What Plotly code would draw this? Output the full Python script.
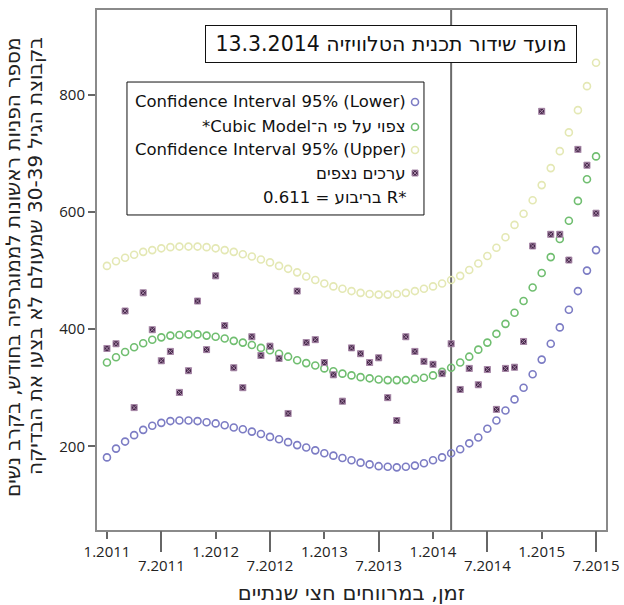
import plotly.graph_objects as go

# ---------------- data ----------------
start_year, start_month, n_months = 2011, 1, 55
month_labels = []
yy, mm = start_year, start_month
for _ in range(n_months):
    month_labels.append(f"{mm}.{yy}")
    mm += 1
    if mm > 12:
        mm, yy = 1, yy + 1
x_idx = list(range(len(month_labels)))

lower = [181, 196, 208, 219, 228, 235, 240, 243, 244, 244,
         243, 241, 239, 236, 232, 229, 225, 221, 216, 212,
         207, 202, 198, 193, 188, 184, 180, 176, 172, 169,
         166, 165, 164, 165, 167, 171, 176, 181, 188, 195,
         205, 215, 230, 244, 261, 280, 300, 323, 348, 375,
         403, 433, 465, 500, 535]
model = [343, 352, 361, 369, 376, 382, 386, 389, 390, 391,
         391, 389, 387, 384, 380, 377, 373, 368, 364, 358,
         353, 347, 342, 338, 333, 328, 324, 321, 318, 316,
         314, 313, 313, 313, 315, 317, 321, 327, 334, 343,
         353, 365, 377, 392, 409, 428, 448, 471, 496, 523,
         554, 585, 619, 656, 695]
upper = [508, 516, 522, 527, 532, 535, 538, 540, 541, 541,
         541, 540, 538, 535, 532, 528, 524, 519, 514, 508,
         503, 497, 490, 484, 478, 473, 469, 465, 462, 460,
         459, 459, 460, 462, 465, 469, 473, 478, 484, 491,
         501, 512, 525, 539, 557, 578, 597, 620, 646, 675,
         704, 736, 774, 815, 855]
observed = [367, 375, 431, 266, 462, 399, 346, 362, 292, 329,
            448, 365, 491, 406, 334, 300, 387, 355, 371, 350,
            256, 465, 377, 382, 343, 322, 277, 368, 358, 343,
            351, 283, 244, 387, 362, 345, 340, 324, 375, 297,
            333, 305, 331, 263, 333, 335, 379, 542, 772, 562,
            562, 518, 707, 680, 598]

jan_ticks = [i for i, l in enumerate(month_labels) if l.startswith("1.")]
jul_ticks = [i for i, l in enumerate(month_labels) if l.startswith("7.")]
broadcast_label = "3.2014"
broadcast_idx = month_labels.index(broadcast_label)
y_ticks = [200, 400, 600, 800]

RLE, PDF = "\u202b", "\u202c"
title_text = RLE + "מועד שידור תכנית הטלוויזיה 13.3.2014" + PDF
legend_texts = ["Confidence Interval 95% (Lower)",
                RLE + "צפוי על פי ה־Cubic Model*" + PDF,
                "Confidence Interval 95% (Upper)",
                RLE + "ערכים נצפים" + PDF,
                RLE + "*R בריבוע = 0.611" + PDF]
x_title = RLE + "זמן, במרווחים חצי שנתיים" + PDF
y_title_lines = [RLE + "מספר הפניות ראשונות לממוגרפיה בחודש, בקרב נשים" + PDF,
                 RLE + "בקבוצת הגיל 30-39 שמעולם לא בצעו את הבדיקה" + PDF]

# ---------------- styles ----------------
TICK_FONT = dict(family="Open Sans, DejaVu Sans, sans-serif", size=15, color="#222")
TXT_FONT = "DejaVu Sans, sans-serif"
st_lower = dict(symbol="circle-open", size=7, color="#7c7cc4", line=dict(width=1.6))
st_model = dict(symbol="circle-open", size=7, color="#70be70", line=dict(width=1.6))
st_upper = dict(symbol="circle-open", size=7, color="#e4e8b4", line=dict(width=1.6))
st_obs = dict(symbol="square-x", size=6, color="#46284a", line=dict(width=1, color="#a888a8"))

fig = go.Figure()
for vals, st in [(upper, st_upper), (lower, st_lower), (model, st_model), (observed, st_obs)]:
    fig.add_trace(go.Scatter(x=x_idx, y=vals, mode="markers", marker=st,
                             showlegend=False, hoverinfo="skip"))
# empty trace so the July tick axis is drawn
fig.add_trace(go.Scatter(x=[], y=[], xaxis="x2", yaxis="y", showlegend=False, hoverinfo="skip"))

# legend key markers (in an invisible paper-like axis pair)
key_x = 0.6248
key_rows = [0.8231, 0.775, 0.7308, 0.6865, 0.6385]
for row, st in zip(key_rows[:4], [st_lower, st_model, st_upper, st_obs]):
    fig.add_trace(go.Scatter(x=[key_x], y=[row], mode="markers", marker=st,
                             xaxis="x3", yaxis="y3", showlegend=False, hoverinfo="skip"))

xr = [-1.1, 55.1]
axis_line = dict(showline=True, linecolor="#8a8a8a", linewidth=2, showgrid=False,
                 zeroline=False, automargin=False)
fig.update_layout(
    width=624, height=605,
    margin=dict(l=97, r=18, t=10, b=75),
    paper_bgcolor="white", plot_bgcolor="white",
    showlegend=False,
    xaxis=dict(range=xr, tickmode="array", tickvals=jan_ticks,
               ticktext=[month_labels[i] for i in jan_ticks],
               ticks="outside", ticklen=7, tickwidth=2, tickcolor="#666",
               mirror=True, tickfont=TICK_FONT, ticklabelstandoff=0,
               title=dict(text=x_title, standoff=37,
                          font=dict(family="DejaVu Sans, sans-serif", size=21, color="#222")),
               **axis_line),
    xaxis2=dict(range=xr, overlaying="x", anchor="y", side="bottom",
                tickmode="array", tickvals=jul_ticks,
                ticktext=[month_labels[i] for i in jul_ticks],
                ticks="outside", ticklen=21, tickwidth=2, tickcolor="#666",
                tickfont=TICK_FONT, showline=False, showgrid=False, zeroline=False,
                automargin=False, ticklabelstandoff=1),
    yaxis=dict(range=[57, 945], tickmode="array", tickvals=y_ticks,
               ticks="outside", ticklen=7, tickwidth=2, tickcolor="#666",
               mirror=True, tickfont=TICK_FONT, **axis_line),
    xaxis3=dict(range=[0, 1], overlaying="x", anchor="y3", visible=False,
                fixedrange=True, automargin=False),
    yaxis3=dict(range=[0, 1], overlaying="y", anchor="x3", visible=False,
                fixedrange=True, automargin=False),
)

# y-axis title: two rotated lines, top-aligned (RTL start at top)
for xpos, txt in zip([-0.1650, -0.1218], y_title_lines):
    fig.add_annotation(x=xpos, y=0.952, xref="paper", yref="paper", text=txt,
                       textangle=-90, showarrow=False, xanchor="center", yanchor="top",
                       font=dict(family="DejaVu Sans, sans-serif", size=20, color="#222"))

# broadcast date line
fig.add_shape(type="line", xref="x", yref="paper", x0=broadcast_idx, x1=broadcast_idx,
              y0=0, y1=1, line=dict(color="#6a6a6a", width=2), layer="below")
# legend box
fig.add_shape(type="rect", xref="paper", yref="paper", x0=0.0589, x1=0.6424,
              y0=0.6058, y1=0.8615, line=dict(color="#111", width=1),
              fillcolor="white", layer="below")
for row, txt in zip(key_rows, legend_texts):
    fig.add_annotation(x=0.611, y=row, xref="paper", yref="paper", text=txt,
                       showarrow=False, xanchor="right", yanchor="middle",
                       font=dict(family=TXT_FONT, size=16.5, color="#111"))
# title box
fig.add_annotation(x=0.5776, y=0.9346, xref="paper", yref="paper", text=title_text,
                   showarrow=False, xanchor="center", yanchor="middle",
                   width=368, height=34, borderpad=1, bordercolor="#111", borderwidth=1,
                   bgcolor="white", font=dict(family=TXT_FONT, size=20.5, color="#111"))

fig.write_html("out.html")
